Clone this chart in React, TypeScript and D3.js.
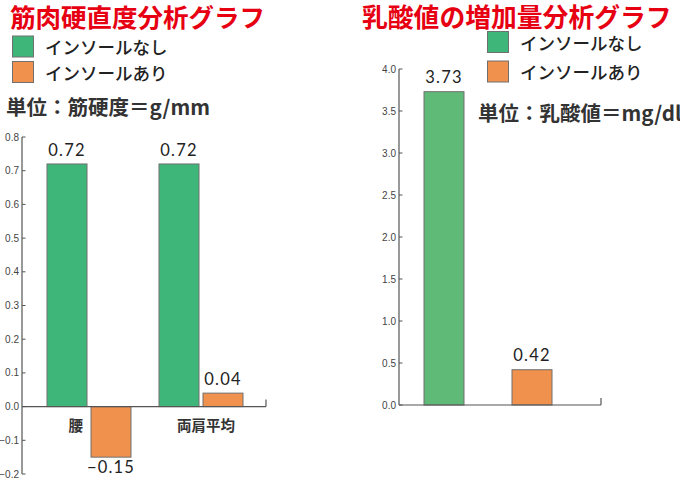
import React from "react";
import * as d3 from "d3";

const W = 680;
const H = 478;

// Left chart data
const leftTitle = "筋肉硬直度分析グラフ";
const leftCategories = ["腰", "両肩平均"];
const seriesNames = ["インソールなし", "インソールあり"];
const leftWithout = [0.72, 0.72];
const leftWith = [-0.15, 0.04];
const leftTicks = [-0.2, -0.1, 0, 0.1, 0.2, 0.3, 0.4, 0.5, 0.6, 0.7, 0.8];
const leftUnit = "単位：筋硬度＝g/mm";

// Right chart data
const rightTitle = "乳酸値の増加量分析グラフ";
const rightValues = [3.73, 0.42];
const rightTicks = [0, 0.5, 1, 1.5, 2, 2.5, 3, 3.5, 4];
const rightUnit = "単位：乳酸値＝mg/dl";

const GREEN_L = "#3eb67a";
const GREEN_R = "#5fba78";
const ORANGE = "#f0914d";
const RED = "#e60012";
const STROKE = "#707070";
const AXIS = "#555";
const JP = "'Noto Sans CJK JP', sans-serif";
const NUM = "Lato, 'Liberation Sans', sans-serif";
const TICKF = "'Liberation Sans', Arial, sans-serif";

export default function App() {
  // ---- Left chart scales
  const yL = d3.scaleLinear().domain([-0.2, 0.8]).range([474, 137]);
  const xL = d3.scaleBand<string>().domain(leftCategories).range([35, 259]).padding(0);
  const xLi = d3
    .scaleBand<string>()
    .domain(seriesNames)
    .range([12, 96])
    .paddingInner(1 / 11)
    .paddingOuter(0);
  const axL = 22;
  const endL = 266;

  // ---- Right chart scales
  const yR = d3.scaleLinear().domain([0, 4]).range([405, 69]);
  const xR = d3
    .scaleBand<string>()
    .domain(seriesNames)
    .range([424, 552])
    .paddingInner(48 / 88)
    .paddingOuter(0);
  const axR = 399;
  const endR = 601;

  const fmt2 = d3.format(".2f");
  const fmt1 = d3.format(".1f");

  const leftSeries = [leftWithout, leftWith];
  const leftColors = [GREEN_L, ORANGE];
  const rightColors = [GREEN_R, ORANGE];

  return (
    <svg
      width={W}
      height={H}
      style={{ position: "absolute", left: 0, top: 0, background: "#fff" }}
    >
      {/* Titles */}
      <text x={10} y={15.5} dominantBaseline="central" fontFamily={JP} fontWeight={700} fontSize={25.5} fill={RED}>
        {leftTitle}
      </text>
      <text x={362} y={15.5} dominantBaseline="central" fontFamily={JP} fontWeight={700} fontSize={25.8} fill={RED}>
        {rightTitle}
      </text>

      {/* Left legend */}
      {seriesNames.map((s, i) => {
        const cy = [46.5, 72][i];
        return (
          <g key={"ll" + i}>
            <rect x={12.5} y={cy - 10.5} width={21} height={21} fill={leftColors[i]} stroke={STROKE} strokeWidth={1} />
            <text x={45} y={cy} dominantBaseline="central" fontFamily={JP} fontWeight={500} fontSize={17.5} fill="#222">
              {s}
            </text>
          </g>
        );
      })}
      <text x={6} y={106} dominantBaseline="central" fontFamily={JP} fontWeight={700} fontSize={20.5} fill="#333">
        {leftUnit}
      </text>

      {/* Right legend */}
      {seriesNames.map((s, i) => {
        const cy = [42, 71.5][i];
        return (
          <g key={"rl" + i}>
            <rect x={487.5} y={cy - 10.5} width={21} height={21} fill={leftColors[i]} stroke={STROKE} strokeWidth={1} />
            <text x={520} y={cy} dominantBaseline="central" fontFamily={JP} fontWeight={500} fontSize={17.5} fill="#222">
              {s}
            </text>
          </g>
        );
      })}
      <text x={478} y={112} dominantBaseline="central" fontFamily={JP} fontWeight={700} fontSize={20.5} fill="#333">
        {rightUnit}
      </text>

      {/* ---------- Left chart ---------- */}
      {leftCategories.map((c, ci) => (
        <g key={"lc" + ci}>
          {seriesNames.map((s, si) => {
            const v = leftSeries[si][ci];
            const x = (xL(c) as number) + (xLi(s) as number);
            const bw = xLi.bandwidth();
            const y0 = yL(0);
            const y1 = yL(v);
            return (
              <g key={"lb" + si}>
                <rect
                  x={x}
                  y={Math.min(y0, y1)}
                  width={bw}
                  height={Math.abs(y1 - y0)}
                  fill={leftColors[si]}
                  stroke={STROKE}
                  strokeWidth={1}
                />
                <text
                  x={x + bw / 2}
                  y={v >= 0 ? y1 - 8 : y1 + 16}
                  textAnchor="middle"
                  fontFamily={NUM}
                  fontWeight={400}
                  fontSize={16.5}
                  letterSpacing={1.2}
                  fill="#222"
                >
                  {fmt2(v)}
                </text>
              </g>
            );
          })}
          {(() => {
            const neg = leftWith[ci] < 0;
            const gx = xL(c) as number;
            const labelX = neg
              ? gx + (xLi(seriesNames[1]) as number) - 8
              : gx + xL.bandwidth() / 2 + 3;
            return (
              <text
                x={labelX}
                y={yL(0) + 18}
                dominantBaseline="central"
                textAnchor={neg ? "end" : "middle"}
                fontFamily={JP}
                fontWeight={700}
                fontSize={14.5}
                fill="#333"
              >
                {c}
              </text>
            );
          })()}
        </g>
      ))}
      {/* Left axis */}
      <line x1={axL} x2={axL} y1={yL(0.8)} y2={yL(-0.2)} stroke={AXIS} strokeWidth={1.2} />
      {leftTicks.map((t, i) => (
        <g key={"lt" + i}>
          <line x1={axL} x2={axL + 3.5} y1={yL(t)} y2={yL(t)} stroke={AXIS} strokeWidth={1} />
          <text x={axL - 3} y={yL(t)} dy="0.35em" textAnchor="end" fontFamily={TICKF} fontSize={10} fill="#444">
            {fmt1(t)}
          </text>
        </g>
      ))}
      <line x1={axL} x2={endL} y1={yL(0)} y2={yL(0)} stroke={AXIS} strokeWidth={1.2} />
      <line x1={endL} x2={endL} y1={yL(0)} y2={yL(0) - 7} stroke={AXIS} strokeWidth={1.2} />

      {/* ---------- Right chart ---------- */}
      {seriesNames.map((s, si) => {
        const v = rightValues[si];
        const x = xR(s) as number;
        const bw = xR.bandwidth();
        return (
          <g key={"rb" + si}>
            <rect
              x={x}
              y={yR(v)}
              width={bw}
              height={yR(0) - yR(v)}
              fill={rightColors[si]}
              stroke={STROKE}
              strokeWidth={1}
            />
            <text
              x={x + bw / 2}
              y={yR(v) - 8.5}
              textAnchor="middle"
              fontFamily={NUM}
              fontWeight={400}
              fontSize={16.5}
              letterSpacing={1.2}
              fill="#222"
            >
              {fmt2(v)}
            </text>
          </g>
        );
      })}
      <line x1={axR} x2={axR} y1={yR(4)} y2={yR(0)} stroke={AXIS} strokeWidth={1.2} />
      {rightTicks.map((t, i) => (
        <g key={"rt" + i}>
          <line x1={axR} x2={axR + 3.5} y1={yR(t)} y2={yR(t)} stroke={AXIS} strokeWidth={1} />
          <text x={axR - 3} y={yR(t)} dy="0.35em" textAnchor="end" fontFamily={TICKF} fontSize={10} fill="#444">
            {fmt1(t)}
          </text>
        </g>
      ))}
      <line x1={axR} x2={endR} y1={yR(0)} y2={yR(0)} stroke={AXIS} strokeWidth={1.2} />
      <line x1={endR} x2={endR} y1={yR(0)} y2={yR(0) - 7} stroke={AXIS} strokeWidth={1.2} />
    </svg>
  );
}
